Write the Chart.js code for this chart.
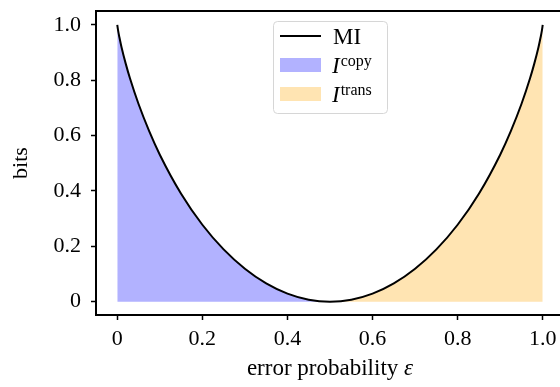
<!DOCTYPE html>
<html>
<head>
<meta charset="utf-8">
<script src="https://cdn.jsdelivr.net/npm/chart.js@4"></script>
<style>
  html, body { margin: 0; padding: 0; background: #fff; overflow: hidden; }
  #wrap { width: 560px; height: 387px; overflow: hidden; }
</style>
</head>
<body>
<div id="wrap"><canvas id="miChart" width="570" height="387"></canvas></div>
<script>
// error probability and mutual information
const eps = [0, 0.002, 0.005, 0.01, 0.02, 0.03, 0.05, 0.075, 0.1, 0.15, 0.2, 0.25, 0.3, 0.35, 0.4, 0.45, 0.5,
             0.55, 0.6, 0.65, 0.7, 0.75, 0.8, 0.85, 0.9, 0.925, 0.95, 0.97, 0.98, 0.99, 0.995, 0.998, 1];
const mi = [1.0, 0.979, 0.955, 0.919, 0.859, 0.806, 0.714, 0.616, 0.531, 0.390, 0.278, 0.189, 0.119, 0.066, 0.029, 0.007, 0,
            0.007, 0.029, 0.066, 0.119, 0.189, 0.278, 0.390, 0.531, 0.616, 0.714, 0.806, 0.859, 0.919, 0.955, 0.979, 1.0];

const xTicks = [0, 0.2, 0.4, 0.6, 0.8, 1.0];
const xTickLabels = ['0', '0.2', '0.4', '0.6', '0.8', '1.0'];
const yTicks = [0, 0.2, 0.4, 0.6, 0.8, 1.0];
const yTickLabels = ['0', '0.2', '0.4', '0.6', '0.8', '1.0'];

const legendNames = ['MI', 'I', 'I'];
const legendSups = ['', 'copy', 'trans'];
const xTitle = 'error probability ';
const xTitleSym = 'ε';
const yTitle = 'bits';

const FONT = '"Liberation Serif", "Times New Roman", serif';
const tickSize = 22;

const curve = eps.map((e, i) => ({ x: e, y: mi[i] }));
const copyPart = curve.filter(p => p.x <= 0.5);
const transPart = curve.filter(p => p.x >= 0.5);

const blueFill = 'rgba(0, 0, 255, 0.3)';
const orangeFill = 'rgba(255, 165, 0, 0.3)';

function tickLabel(list, labels) {
    return function (value) {
        const i = list.findIndex(v => Math.abs(v - value) < 1e-9);
        return i >= 0 ? labels[i] : '';
    };
}

const frameAndText = {
    id: 'frameAndText',
    afterDraw(chart) {
        const ctx = chart.ctx;
        const a = chart.chartArea;
        ctx.save();
        // box round the plot
        ctx.strokeStyle = '#000';
        ctx.lineWidth = 2;
        ctx.strokeRect(a.left, a.top, a.right - a.left, a.bottom - a.top);

        // legend
        ctx.beginPath();
        ctx.roundRect(273.5, 21.5, 114, 92, 4);
        ctx.fillStyle = 'rgba(255,255,255,0.8)';
        ctx.fill();
        ctx.strokeStyle = '#d6d6d6';
        ctx.lineWidth = 1;
        ctx.stroke();

        const rows = [36, 65, 94];
        ctx.strokeStyle = '#000';
        ctx.lineWidth = 2;
        ctx.beginPath();
        ctx.moveTo(280, rows[0]);
        ctx.lineTo(321, rows[0]);
        ctx.stroke();
        ctx.fillStyle = blueFill;
        ctx.fillRect(280, rows[1] - 7, 41, 14);
        ctx.fillStyle = orangeFill;
        ctx.fillRect(280, rows[2] - 7, 41, 14);

        ctx.fillStyle = '#000';
        ctx.textAlign = 'left';
        ctx.textBaseline = 'alphabetic';
        ctx.font = '23px ' + FONT;
        ctx.fillText(legendNames[0], 333, rows[0] + 8);
        for (let i = 1; i < 3; i++) {
            ctx.font = 'italic 23px ' + FONT;
            ctx.fillText(legendNames[i], 332, rows[i] + 8);
            const w = ctx.measureText(legendNames[i]).width;
            ctx.font = '16px ' + FONT;
            ctx.fillText(legendSups[i], 332 + w + 1, rows[i] + 1);
        }

        // x axis title with italic epsilon
        ctx.font = '23px ' + FONT;
        const w1 = ctx.measureText(xTitle).width;
        ctx.font = 'italic 23px ' + FONT;
        const w2 = ctx.measureText(xTitleSym).width;
        const x0 = 330 - (w1 + w2) / 2;
        ctx.font = '23px ' + FONT;
        ctx.fillText(xTitle, x0, 375);
        ctx.font = 'italic 23px ' + FONT;
        ctx.fillText(xTitleSym, x0 + w1, 375);

        // y axis title
        ctx.translate(27, 163);
        ctx.rotate(-Math.PI / 2);
        ctx.textAlign = 'center';
        ctx.font = '22px ' + FONT;
        ctx.fillText(yTitle, 0, 0);
        ctx.restore();
    }
};

new Chart(document.getElementById('miChart'), {
    type: 'line',
    data: {
        datasets: [
            {
                label: 'MI',
                data: curve,
                borderColor: '#000',
                borderWidth: 2,
                pointRadius: 0,
                fill: false,
                cubicInterpolationMode: 'monotone',
                order: 0
            },
            {
                label: 'copy',
                data: copyPart,
                borderWidth: 0,
                borderColor: 'rgba(0,0,0,0)',
                backgroundColor: blueFill,
                pointRadius: 0,
                fill: 'origin',
                cubicInterpolationMode: 'monotone',
                order: 1
            },
            {
                label: 'trans',
                data: transPart,
                borderWidth: 0,
                borderColor: 'rgba(0,0,0,0)',
                backgroundColor: orangeFill,
                pointRadius: 0,
                fill: 'origin',
                cubicInterpolationMode: 'monotone',
                order: 2
            }
        ]
    },
    options: {
        responsive: false,
        animation: false,
        layout: { padding: { top: 11, right: 6, left: 0, bottom: 0 } },
        plugins: { legend: { display: false }, tooltip: { enabled: false } },
        scales: {
            x: {
                type: 'linear',
                min: -0.05,
                max: 1.05,
                afterBuildTicks: s => { s.ticks = xTicks.map(v => ({ value: v })); },
                afterFit: s => { s.height = 72; s.paddingLeft = 0; s.paddingRight = 0; },
                ticks: {
                    callback: tickLabel(xTicks, xTickLabels),
                    font: { family: FONT, size: tickSize },
                    color: '#000',
                    padding: 6,
                    maxRotation: 0,
                    autoSkip: false
                },
                grid: { drawOnChartArea: false, tickLength: 5, tickWidth: 1.5, tickColor: '#000' },
                border: { display: true, color: '#000', width: 2 }
            },
            y: {
                type: 'linear',
                min: -0.048,
                max: 1.05,
                afterBuildTicks: s => { s.ticks = yTicks.map(v => ({ value: v })); },
                afterFit: s => { s.width = 96; s.paddingTop = 0; s.paddingBottom = 0; },
                ticks: {
                    callback: tickLabel(yTicks, yTickLabels),
                    font: { family: FONT, size: tickSize },
                    color: '#000',
                    padding: 10,
                    autoSkip: false
                },
                grid: { drawOnChartArea: false, tickLength: 5, tickWidth: 1.5, tickColor: '#000' },
                border: { display: true, color: '#000', width: 2 }
            }
        }
    },
    plugins: [frameAndText]
});
</script>
</body>
</html>
